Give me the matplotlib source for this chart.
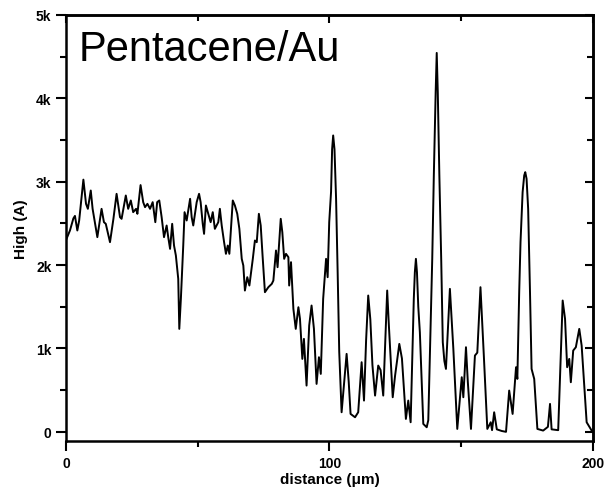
import matplotlib
matplotlib.use('Agg')
import matplotlib.pyplot as plt
from matplotlib.ticker import MultipleLocator, FuncFormatter

# height profile along the scan line
distance = [0, 1.5, 2.8, 3.4, 4.3, 5.0, 6.6, 7.6, 8.3, 9.4, 10.1, 11.9, 13.5, 14.4, 15.1,
            16.7, 18.0, 19.2, 20.5, 21.1, 22.7, 23.6, 24.6, 25.5, 26.6, 27.1, 28.3, 29.3,
            30.0, 30.9, 31.9, 32.9, 33.9, 34.6, 35.4, 36.3, 37.2, 38.2, 38.8, 39.5, 40.3,
            41.0, 41.7, 42.6, 43.0, 43.6, 44.5, 45.0, 45.8, 46.6, 47.1, 47.7, 48.3, 49.6,
            50.5, 51.1, 51.9, 52.4, 53.1, 54.0, 54.9, 55.7, 56.5, 57.8, 58.4, 59.1, 60.0,
            60.7, 61.4, 62.0, 63.3, 64.1, 65.0, 65.8, 66.7, 67.3, 67.9, 68.8, 69.6, 70.9,
            71.7, 72.4, 73.2, 73.9, 74.6, 75.5, 76.8, 78.1, 78.7, 79.7, 80.3, 81.5, 82.1,
            82.8, 83.5, 84.4, 84.7, 85.4, 86.3, 87.2, 88.2, 88.8, 89.7, 90.3, 91.3, 92.3,
            93.2, 94.1, 95.1, 96.0, 96.7, 97.6, 98.7, 99.3, 99.9, 100.6, 101.0, 101.4,
            101.9, 102.5, 103.1, 103.7, 104.6, 105.6, 106.5, 107.3, 108.0, 109.7, 110.9,
            112.2, 113.1, 113.9, 114.7, 115.5, 116.3, 117.3, 118.5, 119.4, 120.4, 121.3,
            121.9, 122.5, 123.0, 124.0, 124.9, 126.5, 127.5, 129.0, 129.9, 130.8, 132.0,
            132.4, 132.8, 133.2, 133.7, 134.3, 135.6, 136.9, 137.5, 138.4, 139.0, 139.6,
            140.3, 140.7, 141.1, 141.7, 142.4, 143.0, 143.6, 144.2, 145.7, 147.0, 148.5,
            150.2, 150.8, 151.8, 152.5, 153.7, 155.2, 156.1, 157.3, 158.6, 159.9, 161.2,
            161.7, 162.5, 163.5, 165.4, 167.0, 168.2, 169.5, 170.8, 171.3, 172.0, 172.5,
            173.3, 173.9, 174.3, 174.8, 175.4, 176.1, 176.7, 177.7, 178.9, 181.1, 182.9,
            183.7, 184.3, 186.8, 188.5, 189.4, 190.2, 191.0, 191.6, 192.5, 193.5, 194.8,
            195.7, 197.0, 197.6, 199.5, 200]
height = [2300, 2415, 2560, 2590, 2415, 2535, 3025, 2735, 2675, 2895, 2675, 2335, 2675,
          2515, 2495, 2275, 2555, 2855, 2575, 2555, 2835, 2675, 2775, 2635, 2675, 2615,
          2960, 2755, 2695, 2735, 2675, 2755, 2515, 2755, 2775, 2575, 2335, 2475, 2335,
          2195, 2495, 2235, 2115, 1835, 1235, 1595, 2235, 2635, 2535, 2695, 2795, 2575,
          2475, 2755, 2855, 2755, 2495, 2375, 2715, 2615, 2515, 2635, 2435, 2515, 2675,
          2475, 2275, 2135, 2235, 2135, 2775, 2715, 2615, 2435, 2075, 1995, 1695, 1855,
          1755, 2075, 2295, 2275, 2615, 2475, 2115, 1675, 1735, 1775, 1815, 2175, 1975,
          2555, 2395, 2075, 2135, 2095, 1755, 2035, 1475, 1235, 1495, 1355, 875, 1115,
          555, 1275, 1515, 1235, 575, 895, 695, 1595, 2075, 1855, 2515, 2880, 3390, 3555,
          3390, 2800, 1915, 960, 235, 600, 935, 600, 215, 175, 235,
          835, 375, 1100, 1635, 1350, 800, 435, 795, 740, 435, 1200,
          1695, 1300, 1000, 415, 675, 1055, 880, 155, 375, 115, 1595,
          1915, 2075, 1915, 1500, 1195, 95, 55, 140, 1275, 2075, 3075,
          4075, 4545, 4075, 3075, 2075, 1075, 850, 755, 1715, 1000, 35,
          655, 415, 1015, 600, 35, 915, 950, 1735, 900, 35, 115, 20, 235,
          30, 10, 0, 495, 215, 775, 635, 1675, 2275,
          2875, 3075, 3115, 3035, 2675, 1675, 755, 635, 35, 15, 60,
          335, 30, 20, 1575, 1355, 775, 875, 595, 975, 1015, 1235,
          1035, 395, 115, 15, 10]

plt.rcParams['font.family'] = ['Liberation Sans', 'DejaVu Sans']

fig = plt.figure(figsize=(6.06, 4.89), dpi=100)
ax = fig.add_axes([0.1089, 0.0961, 0.8696, 0.8712])
ax.plot(distance, height, color='black', lw=1.4)

ax.set_xlim(0, 200)
ax.set_ylim(-110, 5000)

ax.xaxis.set_major_locator(MultipleLocator(100))
ax.xaxis.set_minor_locator(MultipleLocator(50))
ax.yaxis.set_major_locator(MultipleLocator(1000))
ax.yaxis.set_minor_locator(MultipleLocator(500))
ax.yaxis.set_major_formatter(FuncFormatter(lambda v, p: '0' if v == 0 else f'{int(v/1000)}k'))
ax.tick_params(which='both', direction='out', width=1.5, labelsize=10)
ax.tick_params(which='major', length=7)
ax.tick_params(which='minor', length=4)
for lab in ax.get_xticklabels() + ax.get_yticklabels():
    lab.set_fontweight('bold')

# mirrored inward ticks on the top and right frame
top = ax.secondary_xaxis('top')
top.xaxis.set_major_locator(MultipleLocator(100))
top.xaxis.set_minor_locator(MultipleLocator(50))
top.tick_params(which='both', direction='in', labeltop=False, width=1.5)
top.tick_params(which='major', length=6)
top.tick_params(which='minor', length=4)
right = ax.secondary_yaxis('right')
right.yaxis.set_major_locator(MultipleLocator(1000))
right.yaxis.set_minor_locator(MultipleLocator(500))
right.tick_params(which='both', direction='in', labelright=False, width=1.5)
right.tick_params(which='major', length=6)
right.tick_params(which='minor', length=4)

for s in list(ax.spines.values()) + [top.spines['top'], right.spines['right']]:
    s.set_linewidth(1.8)

ax.set_xlabel('distance (\u03bcm)', fontsize=11, fontweight='bold', labelpad=2)
ax.set_ylabel('High (A)', fontsize=11, fontweight='bold', labelpad=6)
ax.text(0.0247, 0.894, 'Pentacene/Au', transform=ax.transAxes, fontsize=30,
        va='baseline', ha='left')

fig.savefig('out.png', dpi=100)
